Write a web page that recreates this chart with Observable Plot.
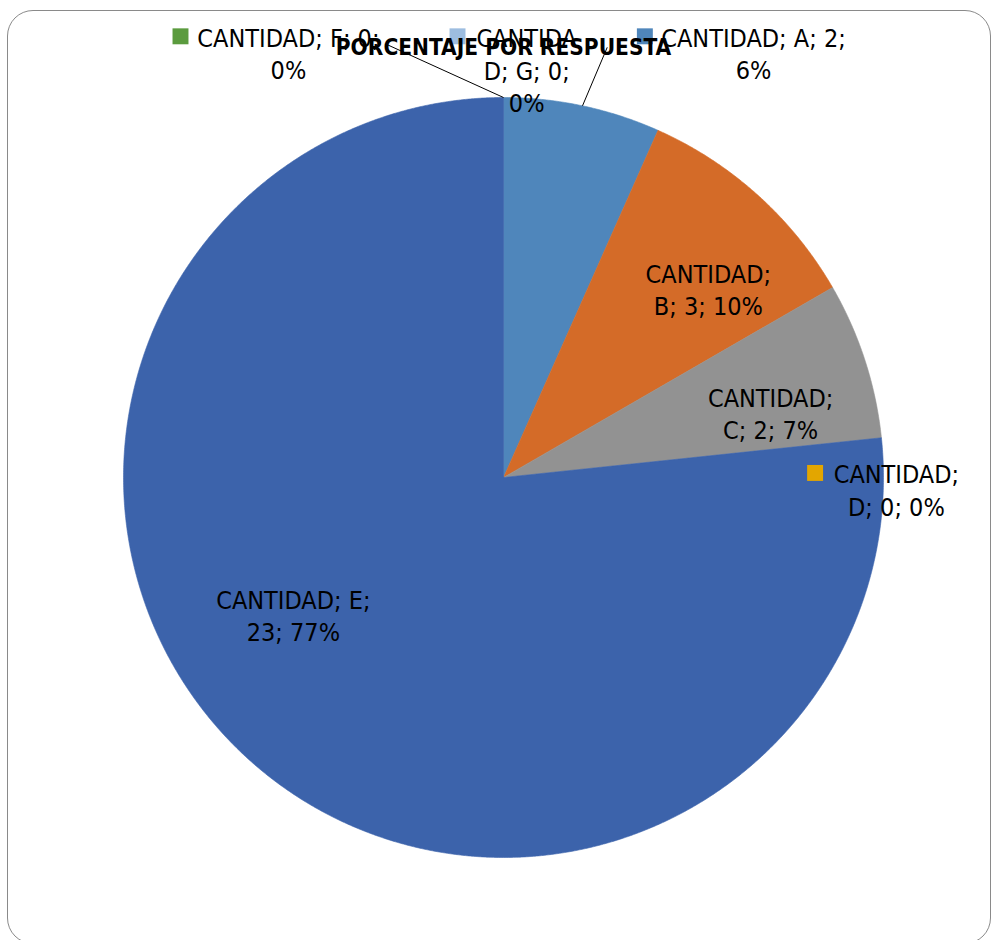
<!DOCTYPE html>
<html>
<head>
<meta charset="utf-8">
<script src="https://cdn.jsdelivr.net/npm/d3@7"></script>
<script src="https://cdn.jsdelivr.net/npm/@observablehq/plot@0.6"></script>
<style>
  html, body { margin: 0; padding: 0; background: #fff; overflow: hidden; }
  #border { position: absolute; left: 7px; top: 10px; width: 984px; height: 934px;
            border: 1px solid #8a8a8a; border-radius: 26px; box-sizing: border-box; }
  #chart { position: absolute; left: 0; top: 0; }
</style>
</head>
<body>
<div id="border"></div>
<div id="chart"></div>
<script>
// ---- data ----
const title = "PORCENTAJE POR RESPUESTA";
const seriesName = "CANTIDAD";
const categories = ["A", "B", "C", "D", "E", "F", "G"];
const values = [2, 3, 2, 0, 23, 0, 0];
const percentLabels = ["6%", "10%", "7%", "0%", "77%", "0%", "0%"];
const colors = ["#4f86bb", "#d46b28", "#929292", "#e3a600", "#3c63ab", "#5b9b3e", "#9dbde0"];

// ---- layout (units of pie radius, relative to pie centre, y up) ----
const cx = 503, cy = 477, R = 380;
const labelLayout = {
  A: {x: 0.658, y: 1.112, breaks: [15], key: [0.372, 1.161], leader: [0.273, 1.132]},
  B: {x: 0.539, y: 0.491, breaks: [9]},
  C: {x: 0.703, y: 0.166, breaks: [9]},
  D: {x: 1.034, y: -0.036, breaks: [9], key: [0.820, 0.012]},
  E: {x: -0.553, y: -0.366, breaks: [12]},
  F: {x: -0.566, y: 1.112, breaks: [15], key: [-0.850, 1.161], leader: [-0.306, 1.139]},
  G: {x: 0.061, y: 1.069, breaks: [7, 16], key: [-0.121, 1.161]}
};
const FONT = "'Liberation Sans Narrow', 'Arial Narrow', 'DejaVu Sans Condensed', 'Liberation Sans', sans-serif";

// ---- derived ----
const arcs = d3.pie().sort(null).startAngle(0).endAngle(2 * Math.PI)(values);
const slices = categories.map((cat, i) => ({cat, value: values[i], pct: percentLabels[i], a0: arcs[i].startAngle, a1: arcs[i].endAngle}));

const polyPoints = [];
for (const s of slices) {
  if (s.value <= 0) continue;
  polyPoints.push({cat: s.cat, x: 0, y: 0});
  const n = Math.max(2, Math.ceil((s.a1 - s.a0) / (Math.PI / 720)));
  for (let k = 0; k <= n; k++) {
    const a = s.a0 + (s.a1 - s.a0) * k / n;
    polyPoints.push({cat: s.cat, x: Math.sin(a), y: Math.cos(a)});
  }
  polyPoints.push({cat: s.cat, x: 0, y: 0});
}

function wrap(str, breaks) {
  const parts = [];
  let prev = 0;
  for (const b of breaks) { parts.push(str.slice(prev, b).trim()); prev = b; }
  parts.push(str.slice(prev).trim());
  return parts.join("\n");
}

const labels = slices.map(s => {
  const L = labelLayout[s.cat];
  const full = `${seriesName}; ${s.cat}; ${s.value}; ${s.pct}`;
  return {cat: s.cat, x: L.x, y: L.y, text: wrap(full, L.breaks)};
});

const keys = slices.filter(s => labelLayout[s.cat].key).map(s => ({cat: s.cat, x: labelLayout[s.cat].key[0], y: labelLayout[s.cat].key[1]}));

const leaders = slices.filter(s => labelLayout[s.cat].leader).map(s => {
  const m = (s.a0 + s.a1) / 2;
  return {cat: s.cat, x1: Math.sin(m), y1: Math.cos(m), x2: labelLayout[s.cat].leader[0], y2: labelLayout[s.cat].leader[1]};
});

const chart = Plot.plot({
  width: 992,
  height: 940,
  margin: 0,
  x: {domain: [-1, 1], range: [cx - R, cx + R], axis: null},
  y: {domain: [-1, 1], range: [cy + R, cy - R], axis: null},
  color: {domain: categories, range: colors},
  style: {background: "transparent", fontFamily: FONT, overflow: "visible"},
  marks: [
    Plot.line(polyPoints, {x: "x", y: "y", z: "cat", fill: "cat", stroke: "cat", strokeWidth: 0.6, curve: "linear"}),
    Plot.link(leaders, {x1: "x1", y1: "y1", x2: "x2", y2: "y2", stroke: "#000", strokeWidth: 1}),
    Plot.text(labels, {x: "x", y: "y", dy: -2, text: "text", fontSize: 25, lineHeight: 1.29, fill: "#000", fontFamily: FONT}),
    Plot.dot(keys, {x: "x", y: "y", symbol: "square", r: 9, fill: "cat", stroke: null}),
    Plot.text([title], {frameAnchor: "top", dx: 7, dy: 47, text: d => d, fontSize: 22.5, fontWeight: "bold", fill: "#000", fontFamily: FONT, lineAnchor: "middle"})
  ]
});
document.getElementById("chart").appendChild(chart);
</script>
</body>
</html>
